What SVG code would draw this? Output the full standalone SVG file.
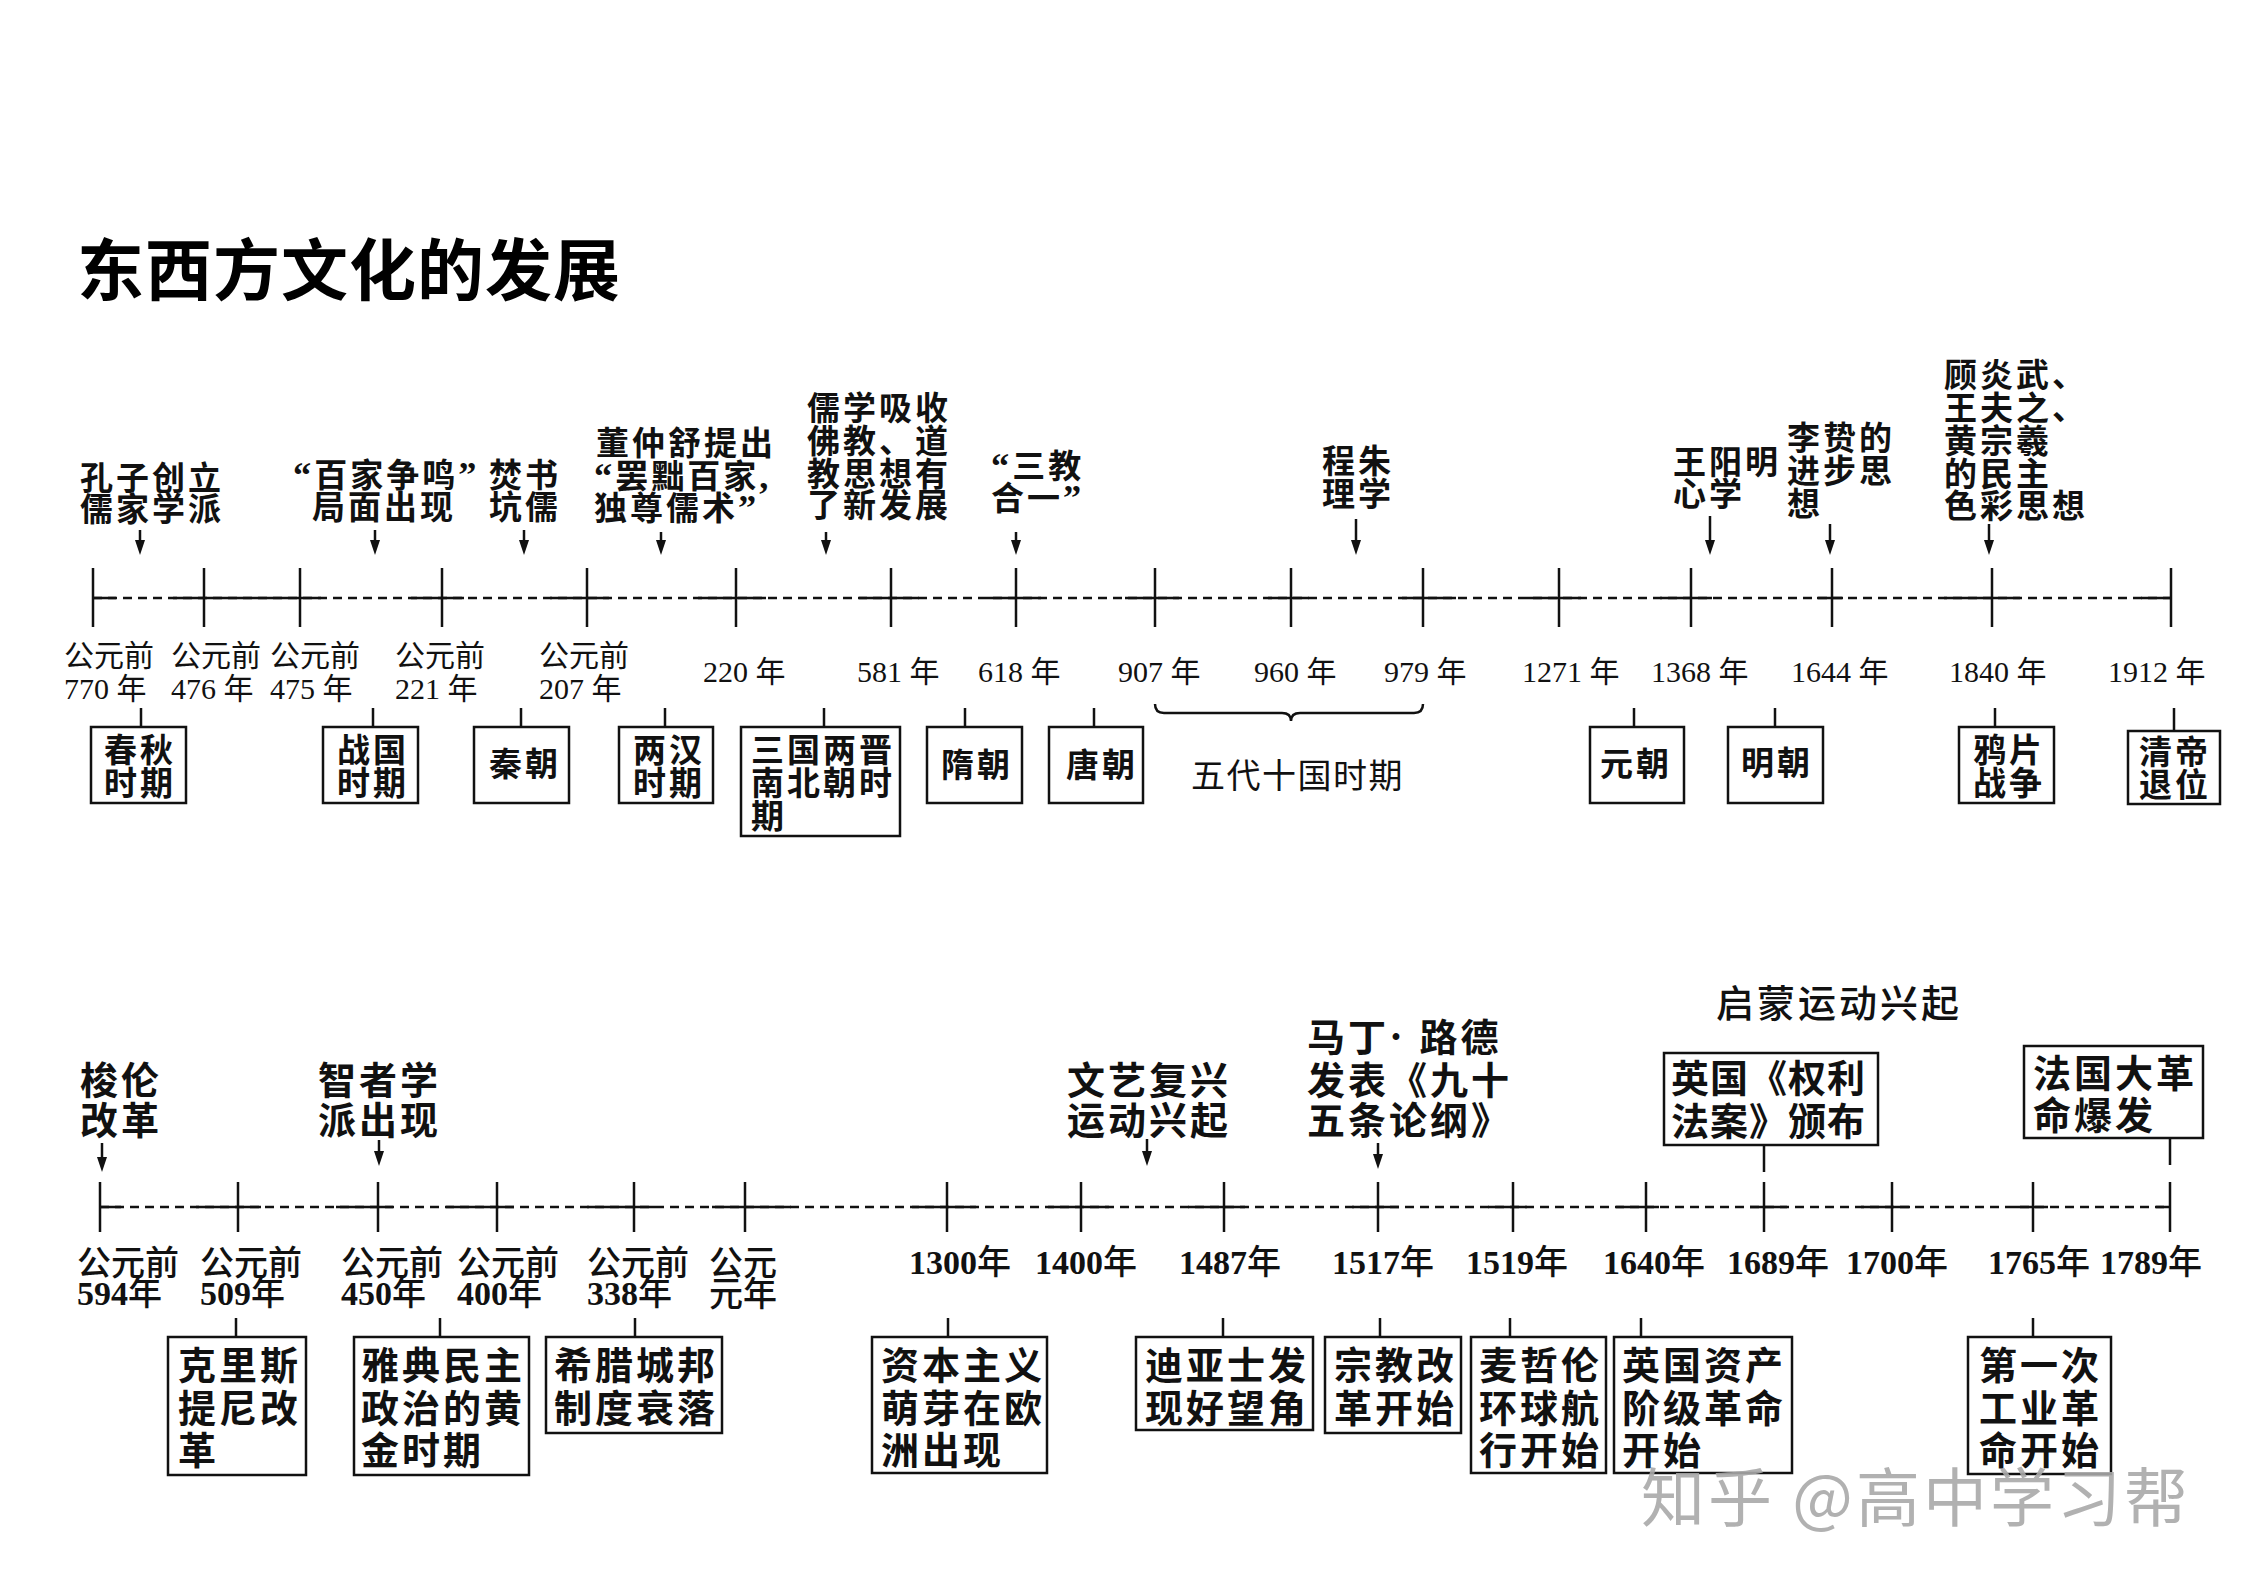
<svg xmlns="http://www.w3.org/2000/svg" width="2245" height="1587" viewBox="0 0 2245 1587">
<defs>
<style>
.bg{fill:#fff}
.ln{stroke:#111;stroke-width:2.5;fill:none}
.dash{stroke:#111;stroke-width:2.5;fill:none;stroke-dasharray:9 6}
.box{fill:#fff;stroke:#111;stroke-width:2.5}
.title{font-family:"Noto Sans CJK SC",sans-serif;font-size:67px;letter-spacing:1px;font-weight:700;fill:#000}
.t33{font-family:"Noto Sans CJK SC",sans-serif;font-size:33px;letter-spacing:3px;font-weight:700;fill:#111}
.t38{font-family:"Noto Sans CJK SC",sans-serif;font-size:38px;letter-spacing:3px;font-weight:700;fill:#111}
.q{font-family:"Liberation Serif",serif;font-size:1.1em;font-weight:700}
.yr{font-family:"Liberation Serif","Noto Sans CJK SC",serif;font-size:30px;fill:#111}
.yb{font-family:"Liberation Serif","Noto Sans CJK SC",serif;font-size:34px;font-weight:500;fill:#111}
.yb tspan.d{font-weight:700}
.brace{font-family:"Noto Sans CJK SC",sans-serif;font-size:34px;letter-spacing:1.5px;fill:#111}
.wm{font-family:"Noto Sans CJK SC",sans-serif;font-size:64px;letter-spacing:3px;fill:#a8a8a8;fill-opacity:0.9}
</style>
<marker id="ah" viewBox="0 0 15 10" refX="9" refY="5" markerWidth="15" markerHeight="10" markerUnits="userSpaceOnUse" orient="auto">
<path d="M0,0 L15,5 L0,10 z" fill="#111"/>
</marker>
</defs>
<rect class="bg" x="0" y="0" width="2245" height="1587"/>
<text class="title" x="77" y="295">东西方文化的发展</text>

<!-- ===== TOP TIMELINE AXIS & CONNECTORS ===== -->
<g id="connectors-top">
<line class="dash" x1="93" y1="598" x2="2171" y2="598"/>
<path class="ln" d="M93,598H116 M173,598H321 M411,598H464 M550,598H609 M698,598H766 M859,598H919 M987,598H1041 M1125,598H1179 M1268,598H1309 M1402,598H1456 M1527,598H1581 M1660,598H1712 M1817,598H1843 M1944,598H2020 M2141,598H2171"/>
<path class="ln" d="M93,568V627 M204,568V627 M300,568V627 M442,568V627 M587,568V627 M736,568V627 M891,568V627 M1016,568V627 M1155,568V627 M1291,568V627 M1423,568V627 M1559,568V627 M1691,568V627 M1832,568V627 M1992,568V627 M2171,568V627"/>
<g marker-end="url(#ah)">
<line class="ln" x1="140" y1="530" x2="140" y2="549"/>
<line class="ln" x1="375" y1="530" x2="375" y2="549"/>
<line class="ln" x1="524" y1="530" x2="524" y2="549"/>
<line class="ln" x1="661" y1="532" x2="661" y2="549"/>
<line class="ln" x1="826" y1="532" x2="826" y2="549"/>
<line class="ln" x1="1016" y1="532" x2="1016" y2="549"/>
<line class="ln" x1="1356" y1="519" x2="1356" y2="549"/>
<line class="ln" x1="1710" y1="516" x2="1710" y2="549"/>
<line class="ln" x1="1830" y1="524" x2="1830" y2="549"/>
<line class="ln" x1="1989" y1="524" x2="1989" y2="549"/>
</g>
<path class="ln" d="M141,708V727 M373,708V727 M521,708V727 M665,708V727 M824,708V727 M965,708V727 M1094,708V727 M1634,708V727 M1775,708V727 M1995,708V727 M2174,708V731"/>
<path class="ln" d="M1155,704 Q1155,713 1164,713 H1282 Q1291,713 1291,721 Q1291,713 1300,713 H1414 Q1423,713 1423,704"/>
</g>

<!-- top labels -->
<g id="t-kongzi"><text class="t33" x="80" y="490">孔子创立</text><text class="t33" x="80" y="521">儒家学派</text></g>
<g id="t-baijia"><text class="t33" x="293" y="487"><tspan class="q">“</tspan>百家争鸣<tspan class="q">”</tspan></text><text class="t33" x="312" y="519">局面出现</text></g>
<g id="t-fenshu"><text class="t33" x="489" y="487">焚书</text><text class="t33" x="489" y="519">坑儒</text></g>
<g id="t-dong"><text class="t33" x="596" y="455">董仲舒提出</text><text class="t33" x="594" y="488"><tspan class="q">“</tspan>罢黜百家<tspan class="q">,</tspan></text><text class="t33" x="594" y="520">独尊儒术<tspan class="q">”</tspan></text></g>
<g id="t-ruxue"><text class="t33" x="807" y="420">儒学吸收</text><text class="t33" x="807" y="453">佛教、道</text><text class="t33" x="807" y="486">教思想有</text><text class="t33" x="807" y="517">了新发展</text></g>
<g id="t-sanjiao"><text class="t33" x="991" y="478"><tspan class="q">“</tspan>三教</text><text class="t33" x="991" y="510">合一<tspan class="q">”</tspan></text></g>
<g id="t-chengzhu"><text class="t33" x="1322" y="473">程朱</text><text class="t33" x="1322" y="506">理学</text></g>
<g id="t-wangyangming"><text class="t33" x="1673" y="474">王阳明</text><text class="t33" x="1673" y="506">心学</text></g>
<g id="t-lizhi"><text class="t33" x="1787" y="450">李贽的</text><text class="t33" x="1787" y="483">进步思</text><text class="t33" x="1787" y="516">想</text></g>
<g id="t-gu"><text class="t33" x="1944" y="387">顾炎武、</text><text class="t33" x="1944" y="420">王夫之、</text><text class="t33" x="1944" y="453">黄宗羲</text><text class="t33" x="1944" y="486">的民主</text><text class="t33" x="1944" y="518">色彩思想</text></g>

<!-- top years -->
<g id="top-years">
<text class="yr" x="64" y="666">公元前</text><text class="yr" x="64" y="699">770 年</text>
<text class="yr" x="171" y="666">公元前</text><text class="yr" x="171" y="699">476 年</text>
<text class="yr" x="270" y="666">公元前</text><text class="yr" x="270" y="699">475 年</text>
<text class="yr" x="395" y="666">公元前</text><text class="yr" x="395" y="699">221 年</text>
<text class="yr" x="539" y="666">公元前</text><text class="yr" x="539" y="699">207 年</text>
<text class="yr" x="703" y="682">220 年</text>
<text class="yr" x="857" y="682">581 年</text>
<text class="yr" x="978" y="682">618 年</text>
<text class="yr" x="1118" y="682">907 年</text>
<text class="yr" x="1254" y="682">960 年</text>
<text class="yr" x="1384" y="682">979 年</text>
<text class="yr" x="1522" y="682">1271 年</text>
<text class="yr" x="1651" y="682">1368 年</text>
<text class="yr" x="1791" y="682">1644 年</text>
<text class="yr" x="1949" y="682">1840 年</text>
<text class="yr" x="2108" y="682">1912 年</text>
</g>
<text class="brace" x="1191" y="788">五代十国时期</text>

<!-- top boxes -->
<g id="b-chunqiu"><rect class="box" x="91" y="727" width="95" height="76"/><text class="t33" x="104" y="762">春秋</text><text class="t33" x="104" y="795">时期</text></g>
<g id="b-zhanguo"><rect class="box" x="323" y="727" width="95" height="76"/><text class="t33" x="337" y="762">战国</text><text class="t33" x="337" y="795">时期</text></g>
<g id="b-qin"><rect class="box" x="474" y="727" width="95" height="76"/><text class="t33" x="489" y="776">秦朝</text></g>
<g id="b-lianghan"><rect class="box" x="619" y="727" width="94" height="76"/><text class="t33" x="633" y="762">两汉</text><text class="t33" x="633" y="795">时期</text></g>
<g id="b-sanguo"><rect class="box" x="741" y="727" width="159" height="109"/><text class="t33" x="751" y="762">三国两晋</text><text class="t33" x="751" y="795">南北朝时</text><text class="t33" x="751" y="828">期</text></g>
<g id="b-sui"><rect class="box" x="927" y="727" width="95" height="76"/><text class="t33" x="941" y="777">隋朝</text></g>
<g id="b-tang"><rect class="box" x="1049" y="727" width="94" height="76"/><text class="t33" x="1066" y="777">唐朝</text></g>
<g id="b-yuan"><rect class="box" x="1590" y="727" width="94" height="76"/><text class="t33" x="1600" y="776">元朝</text></g>
<g id="b-ming"><rect class="box" x="1728" y="727" width="95" height="76"/><text class="t33" x="1741" y="775">明朝</text></g>
<g id="b-yapian"><rect class="box" x="1959" y="727" width="95" height="76"/><text class="t33" x="1973" y="762">鸦片</text><text class="t33" x="1973" y="795">战争</text></g>
<g id="b-qingdi"><rect class="box" x="2128" y="731" width="92" height="73"/><text class="t33" x="2139" y="764">清帝</text><text class="t33" x="2139" y="797">退位</text></g>

<!-- ===== BOTTOM TIMELINE ===== -->
<g id="connectors-bottom">
<line class="dash" x1="100" y1="1207" x2="2170" y2="1207"/>
<path class="ln" d="M100,1207H121 M196,1207H261 M336,1207H393 M446,1207H514 M587,1207H655 M712,1207H791 M912,1207H976 M1048,1207H1109 M1188,1207H1245 M1352,1207H1399 M1488,1207H1527 M1616,1207H1659 M1750,1207H1787 M1861,1207H1910 M2014,1207H2048 M2156,1207H2170"/>
<path class="ln" d="M100,1182V1232 M238,1182V1232 M378,1182V1232 M497,1182V1232 M634,1182V1232 M745,1182V1232 M947,1182V1232 M1081,1182V1232 M1224,1182V1232 M1378,1182V1232 M1513,1182V1232 M1646,1182V1232 M1764,1182V1232 M1892,1182V1232 M2033,1182V1232 M2170,1182V1232"/>
<g marker-end="url(#ah)">
<line class="ln" x1="102" y1="1143" x2="102" y2="1166"/>
<line class="ln" x1="379" y1="1140" x2="379" y2="1160"/>
<line class="ln" x1="1147" y1="1139" x2="1147" y2="1160"/>
<line class="ln" x1="1378" y1="1143" x2="1378" y2="1163"/>
</g>
<path class="ln" d="M236,1318V1337 M440,1318V1337 M635,1318V1337 M948,1318V1337 M1223,1318V1337 M1380,1318V1337 M1510,1318V1337 M1641,1318V1337 M2033,1318V1337"/>
<path class="ln" d="M1764,1145V1172 M2170,1138V1165"/>
</g>

<!-- bottom labels -->
<g id="e-solon"><text class="t38" x="80" y="1094">梭伦</text><text class="t38" x="80" y="1134">改革</text></g>
<g id="e-sophist"><text class="t38" x="318" y="1094">智者学</text><text class="t38" x="318" y="1134">派出现</text></g>
<g id="e-renaissance"><text class="t38" x="1067" y="1094">文艺复兴</text><text class="t38" x="1067" y="1134">运动兴起</text></g>
<g id="e-luther"><text class="t38" x="1307" y="1051">马丁<tspan class="q">· </tspan>路德</text><text class="t38" x="1307" y="1094">发表《九十</text><text class="t38" x="1307" y="1134">五条论纲》</text></g>
<text class="t38" x="1716" y="1017" style="font-weight:500">启蒙运动兴起</text>

<!-- bottom years -->
<g id="bottom-years">
<text class="yb" x="77" y="1275">公元前</text><text class="yb" x="77" y="1305"><tspan class="d">594</tspan>年</text>
<text class="yb" x="200" y="1275">公元前</text><text class="yb" x="200" y="1305"><tspan class="d">509</tspan>年</text>
<text class="yb" x="341" y="1275">公元前</text><text class="yb" x="341" y="1305"><tspan class="d">450</tspan>年</text>
<text class="yb" x="457" y="1275">公元前</text><text class="yb" x="457" y="1305"><tspan class="d">400</tspan>年</text>
<text class="yb" x="587" y="1275">公元前</text><text class="yb" x="587" y="1305"><tspan class="d">338</tspan>年</text>
<text class="yb" x="709" y="1275">公元</text><text class="yb" x="709" y="1306">元年</text>
<text class="yb" x="909" y="1274"><tspan class="d">1300</tspan>年</text>
<text class="yb" x="1035" y="1274"><tspan class="d">1400</tspan>年</text>
<text class="yb" x="1179" y="1274"><tspan class="d">1487</tspan>年</text>
<text class="yb" x="1332" y="1274"><tspan class="d">1517</tspan>年</text>
<text class="yb" x="1466" y="1274"><tspan class="d">1519</tspan>年</text>
<text class="yb" x="1603" y="1274"><tspan class="d">1640</tspan>年</text>
<text class="yb" x="1727" y="1274"><tspan class="d">1689</tspan>年</text>
<text class="yb" x="1846" y="1274"><tspan class="d">1700</tspan>年</text>
<text class="yb" x="1988" y="1274"><tspan class="d">1765</tspan>年</text>
<text class="yb" x="2100" y="1274"><tspan class="d">1789</tspan>年</text>
</g>

<!-- bottom boxes -->
<g id="b-cleisthenes"><rect class="box" x="168" y="1337" width="138" height="138"/><text class="t38" x="178" y="1379">克里斯</text><text class="t38" x="178" y="1422">提尼改</text><text class="t38" x="178" y="1464">革</text></g>
<g id="b-athens"><rect class="box" x="354" y="1337" width="175" height="138"/><text class="t38" x="361" y="1379">雅典民主</text><text class="t38" x="361" y="1422">政治的黄</text><text class="t38" x="361" y="1464">金时期</text></g>
<g id="b-polis"><rect class="box" x="546" y="1337" width="176" height="96"/><text class="t38" x="554" y="1379">希腊城邦</text><text class="t38" x="554" y="1422">制度衰落</text></g>
<g id="b-capitalism"><rect class="box" x="872" y="1337" width="175" height="136"/><text class="t38" x="881" y="1379">资本主义</text><text class="t38" x="881" y="1422">萌芽在欧</text><text class="t38" x="881" y="1464">洲出现</text></g>
<g id="b-dias"><rect class="box" x="1136" y="1337" width="177" height="93"/><text class="t38" x="1145" y="1379">迪亚士发</text><text class="t38" x="1145" y="1422">现好望角</text></g>
<g id="b-reform"><rect class="box" x="1325" y="1337" width="136" height="96"/><text class="t38" x="1334" y="1379">宗教改</text><text class="t38" x="1334" y="1422">革开始</text></g>
<g id="b-magellan"><rect class="box" x="1471" y="1337" width="135" height="136"/><text class="t38" x="1479" y="1379">麦哲伦</text><text class="t38" x="1479" y="1422">环球航</text><text class="t38" x="1479" y="1464">行开始</text></g>
<g id="b-english"><rect class="box" x="1614" y="1337" width="178" height="136"/><text class="t38" x="1622" y="1379">英国资产</text><text class="t38" x="1622" y="1422">阶级革命</text><text class="t38" x="1622" y="1464">开始</text></g>
<g id="b-industrial"><rect class="box" x="1968" y="1337" width="143" height="137"/><text class="t38" x="1979" y="1379">第一次</text><text class="t38" x="1979" y="1422">工业革</text><text class="t38" x="1979" y="1464">命开始</text></g>
<g id="b-billofrights"><rect class="box" x="1664" y="1053" width="214" height="92"/><text class="t38" x="1671" y="1092" style="letter-spacing:1px">英国《权利</text><text class="t38" x="1671" y="1135" style="letter-spacing:1px">法案》颁布</text></g>
<g id="b-france"><rect class="box" x="2024" y="1046" width="179" height="92"/><text class="t38" x="2033" y="1087">法国大革</text><text class="t38" x="2033" y="1129">命爆发</text></g>

<text class="wm" x="1641" y="1521">知乎 @高中学习帮</text>
</svg>
